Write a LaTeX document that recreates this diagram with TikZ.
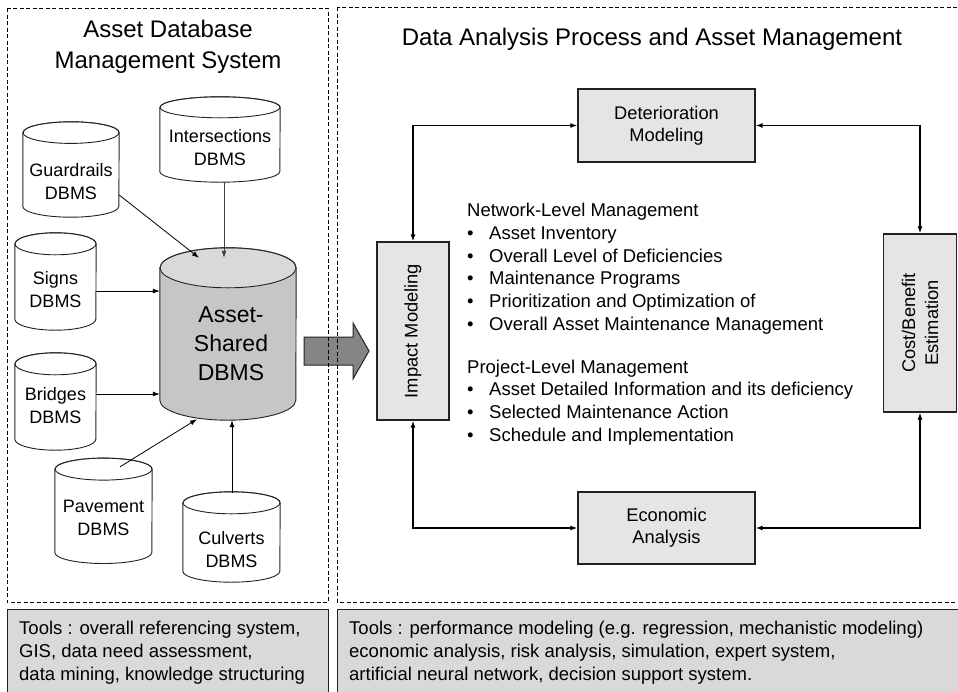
\documentclass[tikz,border=0pt]{standalone}
\usepackage{fontspec}
\setmainfont{Liberation Sans}
\usepackage{graphicx}
\usetikzlibrary{arrows.meta,calc}
\definecolor{boxgray}{HTML}{E5E5E5}
\definecolor{toolgray}{HTML}{D9D9D9}
\definecolor{cylgray}{HTML}{C6C6C6}
\definecolor{arrgray}{HTML}{858585}
\definecolor{edge}{HTML}{222222}
\newcommand\dbcyl[9]{%
  \node[minimum width=#4pt, minimum height=#5pt, inner sep=0pt] (#1) at (#2,#3) {};
  \draw[cylline, fill=#8] ($(#1.north west)+(0,-#6)$) -- ($(#1.south west)+(0,#6)$)
     arc[start angle=180, end angle=360, x radius=#4pt/2, y radius=#6pt]
     -- ($(#1.north east)+(0,-#6)$)
     arc[start angle=0, end angle=180, x radius=#4pt/2, y radius=#6pt] -- cycle;
  \draw[cylline, fill=white, fill opacity=0.35] ($(#1.north)+(0,-#6)$) ellipse[x radius=#4pt/2, y radius=#6pt];
  \node[cyltext, #7] (#1-label) at (#1.center) {#9};
}
\begin{document}
\begin{tikzpicture}[x=1pt, y=1pt,
  cylline/.style={draw=edge, line width=0.9pt},
  cyltext/.style={align=center, inner sep=0pt, font=\fontsize{18}{23}\selectfont},
  bigtext/.style={font=\fontsize{23}{29}\selectfont},
  conn/.style={-{Latex[length=7pt,width=5pt]}, line width=0.8pt, draw=black},
  biconn/.style={{Latex[length=7pt,width=5pt]}-{Latex[length=7pt,width=5pt]}, line width=1.5pt},
  rbox/.style={draw=edge, fill=boxgray, line width=1.2pt, align=center, inner sep=0pt, font=\fontsize{18.3}{22}\selectfont},
  dashframe/.style={draw=black, line width=0.8pt, dash pattern=on 4pt off 2.5pt},
  toolbox/.style={draw=edge, fill=toolgray, line width=1.2pt, inner sep=0pt},
  plaintext/.style={inner sep=0pt, align=left, font=\fontsize{18.5}{23}\selectfont}
]
\useasboundingbox (0,0) rectangle (958,-691);
\fill[white] (0,0) rectangle (958,-691);

% titles
\node[anchor=north, align=center, inner sep=0pt, font=\fontsize{24}{31}\selectfont] (titleL) at (168,-19.8) {Asset Database\\Management System};
\node[anchor=base, inner sep=0pt, font=\fontsize{24}{31}\selectfont] (titleR) at (652,-45) {Data Analysis Process and Asset Management};

% cylinders
\dbcyl{inter}{220}{-139.5}{120}{85}{10.5}{yshift=-8pt}{white}{Intersections\\DBMS}
\dbcyl{guard}{71}{-169.5}{96}{95}{10.8}{yshift=-12pt}{white}{Guardrails\\DBMS}
\dbcyl{signs}{55.5}{-281.5}{81}{97}{11}{yshift=-8pt}{white}{Signs\\DBMS}
\dbcyl{bridges}{55.5}{-401.5}{81}{97}{11}{yshift=-4.5pt}{white}{Bridges\\DBMS}
\dbcyl{pave}{103.5}{-510.8}{97}{105}{11}{yshift=-7pt}{white}{Pavement\\DBMS}
\dbcyl{culv}{231.5}{-537}{97}{90}{11}{yshift=-13pt}{white}{Culverts\\DBMS}
\dbcyl{asset}{228}{-334}{136}{172}{20}{yshift=-10pt, xshift=3pt, bigtext}{cylgray}{Asset-\\Shared\\DBMS}

% connectors to shared DBMS
\draw[conn] ($(guard.east)+(0,-25.5)$) -- ($(asset.north)+(-29,-10)$);
\draw[conn, draw=black!75] ($(inter.south)+(4,0)$) -- ($(asset.north)+(-4,-10)$);
\draw[conn] ($(signs.east)+(0,-9.5)$) coordinate (s1) -- (s1 -| asset.west);
\draw[conn] ($(bridges.east)+(0,7.5)$) coordinate (b1) -- (b1 -| asset.west);
\draw[conn] ($(pave.north)+(16.5,-8.7)$) -- ($(asset.south)+(-31,1)$);
\draw[conn] ($(culv.north)+(0.5,-1)$) coordinate (c1) -- (c1 |- asset.south);

% fat arrow
\draw[fill=arrgray, draw=edge, line width=1pt] (304,-337) -- (353,-337) -- (353,-323) -- (369,-351) -- (353,-379) -- (353,-365) -- (304,-365) -- cycle;

% frames
\draw[dashframe] (7,-8) rectangle (328,-602);
\draw[dashframe] (337,-7) rectangle (975,-602);

% right side boxes
\node[rbox, minimum width=177pt, minimum height=73pt] (det) at (666.5,-125.5) {Deterioration\\Modeling};
\node[rbox, minimum width=177pt, minimum height=72pt] (eco) at (666.5,-528) {Economic\\Analysis};
\node[rbox, minimum width=72pt, minimum height=178pt] (imp) at (413,-331) {};
\node[rotate=90, inner sep=0pt, font=\fontsize{18.3}{22}\selectfont] (implabel) at (imp.center) {Impact Modeling};
\node[rbox, minimum width=73pt, minimum height=178pt] (cost) at (920,-323) {};
\node[rotate=90, align=center, inner sep=0pt, font=\fontsize{18.3}{23}\selectfont] (costlabel) at (cost.center) {Cost/Benefit\\Estimation};

\draw[biconn] (imp.north) |- (det.west);
\draw[biconn] (det.east) -| (cost.north);
\draw[biconn] (imp.south) |- (eco.west);
\draw[biconn] (eco.east) -| (cost.south);

% bullet text
\node[plaintext, anchor=north west, font=\fontsize{18.5}{22.7}\selectfont] (mgmt) at (467,-203) {%
Network-Level Management\\
\makebox[22pt][l]{\textbullet}Asset Inventory\\
\makebox[22pt][l]{\textbullet}Overall Level of Deficiencies\\
\makebox[22pt][l]{\textbullet}Maintenance Programs\\
\makebox[22pt][l]{\textbullet}Prioritization and Optimization of\\
\makebox[22pt][l]{\textbullet}Overall Asset Maintenance Management\\[20.3pt]
Project-Level Management\\
\makebox[22pt][l]{\textbullet}Asset Detailed Information and its deficiency\\
\makebox[22pt][l]{\textbullet}Selected Maintenance Action\\
\makebox[22pt][l]{\textbullet}Schedule and Implementation};

% tools boxes
\node[toolbox, anchor=north west, minimum width=321pt, minimum height=92pt] (toolsL) at (7,-609) {};
\node[toolbox, anchor=north west, minimum width=640pt, minimum height=92pt] (toolsR) at (337,-609) {};
\node[plaintext, anchor=north west] (toolsLtext) at ($(toolsL.north west)+(12,-11.75)$) {Tools : overall referencing system,\\GIS, data need assessment,\\data mining, knowledge structuring};
\node[plaintext, anchor=north west] (toolsRtext) at ($(toolsR.north west)+(12,-11.75)$) {Tools : performance modeling (e.g. regression, mechanistic modeling)\\economic analysis, risk analysis, simulation, expert system,\\artificial neural network, decision support system.};
\end{tikzpicture}
\end{document}
